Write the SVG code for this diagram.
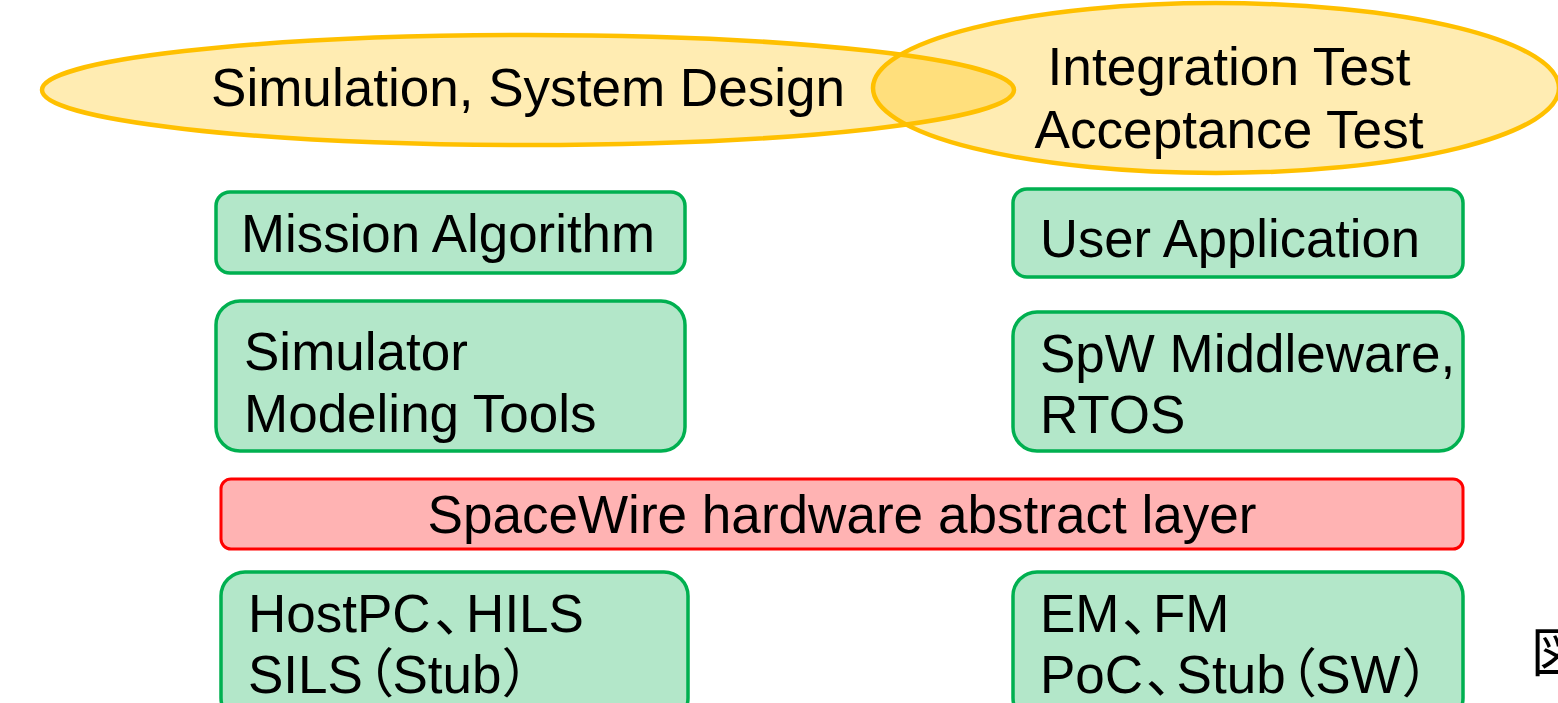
<svg xmlns="http://www.w3.org/2000/svg" width="1558" height="703" viewBox="0 0 1558 703">
<style>
text{font-family:"Liberation Sans","Noto Sans CJK JP",Arial,sans-serif;fill:#000;font-size:53px}
.big{font-size:54px}
.cjk{font-feature-settings:"palt"}
.ell{fill:#FFC000;fill-opacity:0.3;stroke:#FFC000;stroke-width:4.5}
.g{fill:#B3E7C9;stroke:#00B050;stroke-width:3.5}
.r{fill:#FFB3B3;stroke:#FF0000;stroke-width:3}
</style>
<rect width="1558" height="703" fill="#fff"/>
<g id="phase-design">
<ellipse class="ell" cx="528" cy="90" rx="486" ry="55"/>
<text class="big" x="528" y="106" text-anchor="middle" textLength="634" lengthAdjust="spacingAndGlyphs">Simulation, System Design</text>
</g>
<g id="phase-test">
<ellipse class="ell" cx="1216" cy="88" rx="343" ry="85"/>
<text class="big" x="1229" y="85" text-anchor="middle" textLength="363" lengthAdjust="spacingAndGlyphs">Integration Test</text>
<text class="big" x="1229" y="148" text-anchor="middle" textLength="389" lengthAdjust="spacingAndGlyphs">Acceptance Test</text>
</g>
<g id="mission-algorithm">
<rect class="g" x="216" y="192" width="469" height="81" rx="14"/>
<text x="241" y="252" textLength="414" lengthAdjust="spacingAndGlyphs">Mission Algorithm</text>
</g>
<g id="simulator">
<rect class="g" x="216" y="301" width="469" height="150" rx="24"/>
<text x="244" y="370">Simulator</text>
<text x="244" y="432">Modeling Tools</text>
</g>
<g id="user-application">
<rect class="g" x="1013" y="189" width="450" height="88" rx="14"/>
<text x="1040" y="257" textLength="380" lengthAdjust="spacingAndGlyphs">User Application</text>
</g>
<g id="middleware">
<rect class="g" x="1013" y="312" width="450" height="139" rx="24"/>
<text x="1040" y="372">SpW Middleware,</text>
<text x="1040" y="433">RTOS</text>
</g>
<g id="hal">
<rect class="r" x="221" y="479" width="1242" height="70" rx="10"/>
<text x="842" y="533" text-anchor="middle" textLength="829" lengthAdjust="spacingAndGlyphs">SpaceWire hardware abstract layer</text>
</g>
<g id="host-pc">
<rect class="g" x="221" y="572" width="467" height="150" rx="24"/>
<text class="cjk" x="248" y="632">HostPC<tspan dx="4">、</tspan><tspan dx="5">HILS</tspan></text>
<text class="cjk" x="248" y="693">SILS<tspan dx="3">（</tspan>Stub<tspan dx="2">）</tspan></text>
</g>
<g id="em-fm">
<rect class="g" x="1013" y="572" width="450" height="150" rx="24"/>
<text class="cjk" x="1040" y="632">EM<tspan dx="3">、</tspan><tspan dx="4">FM</tspan></text>
<text class="cjk" x="1040" y="693">PoC<tspan dx="3">、</tspan><tspan dx="4">Stub</tspan><tspan dx="3">（</tspan>SW<tspan dx="3">）</tspan></text>
</g>
<g id="connectors"></g>
<text x="1531" y="672" font-size="60">図</text>
</svg>
